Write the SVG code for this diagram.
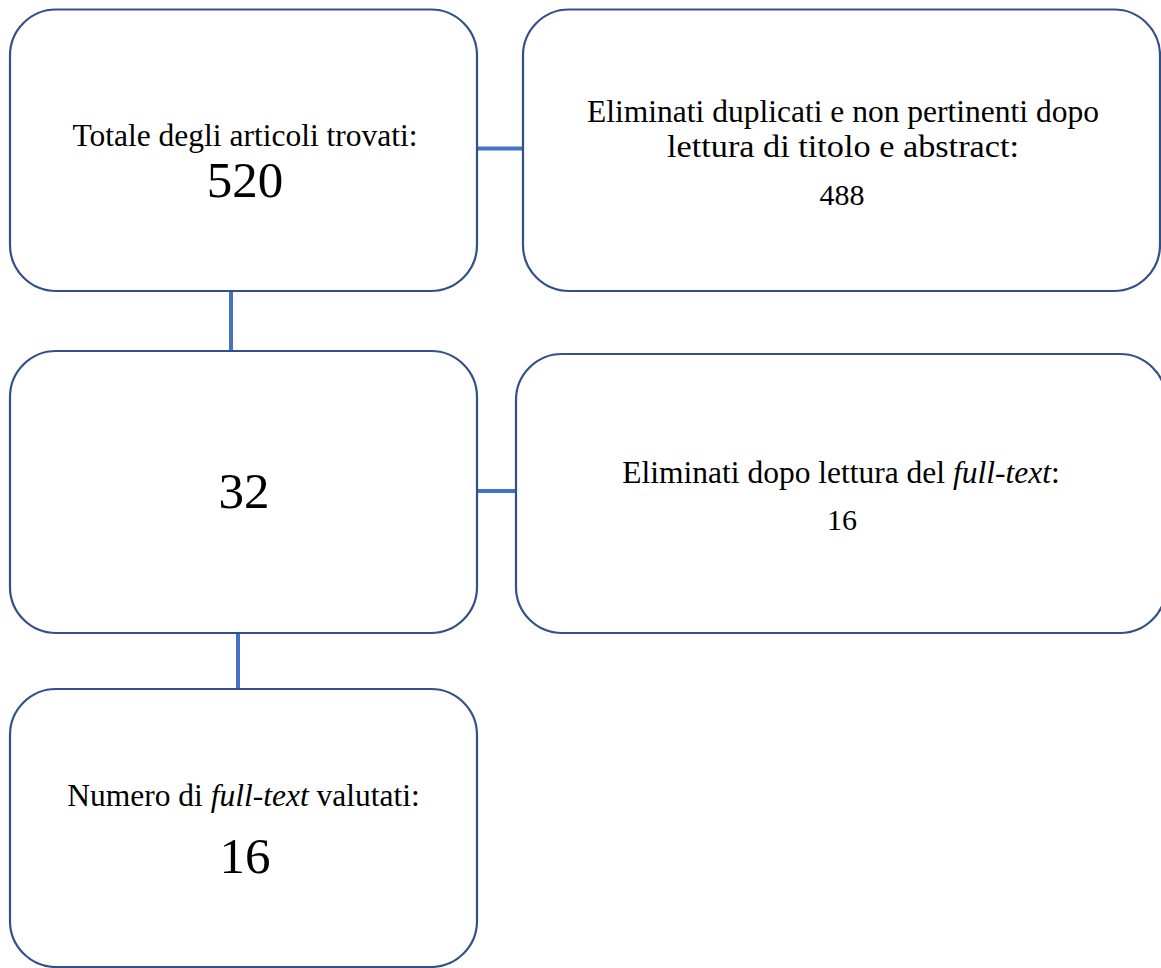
<svg xmlns="http://www.w3.org/2000/svg" width="1161" height="968" viewBox="0 0 1161 968">
<style>
.box{fill:#ffffff;stroke:#34508a;stroke-width:2.2}
.conn{stroke:#4472c4;stroke-width:4;fill:none}
.t{font-family:"Liberation Serif","Times New Roman",serif;font-size:31.5px;fill:#000;text-anchor:middle}
.big{font-size:51px}
.mid{font-size:30px}
.i{font-style:italic}
</style>
<rect width="1161" height="968" fill="#ffffff"/>
<g id="connectors">
<line class="conn" x1="477" y1="148.5" x2="523" y2="148.5"/>
<line class="conn" x1="231" y1="291" x2="231" y2="351"/>
<line class="conn" x1="477" y1="491" x2="516" y2="491"/>
<line class="conn" x1="238" y1="633" x2="238" y2="689"/>
</g>
<g id="n1">
<rect class="box" x="10" y="9.5" width="467" height="281.5" rx="46" ry="46"/>
<text class="t" x="245" y="146">Totale degli articoli trovati:</text>
<text class="t big" x="245" y="197">520</text>
</g>
<g id="n2">
<rect class="box" x="523" y="9.5" width="637" height="281.5" rx="46" ry="46"/>
<text class="t" x="843" y="122">Eliminati duplicati e non pertinenti dopo</text>
<text class="t" x="843" y="157" textLength="352" lengthAdjust="spacingAndGlyphs">lettura di titolo e abstract:</text>
<text class="t mid" x="842" y="205">488</text>
</g>
<g id="n3">
<rect class="box" x="10" y="351" width="467" height="282" rx="46" ry="46"/>
<text class="t big" x="244" y="508">32</text>
</g>
<g id="n4">
<rect class="box" x="516" y="354" width="650" height="279" rx="46" ry="46"/>
<text class="t" x="841" y="483">Eliminati dopo lettura del <tspan class="i">full-text</tspan>:</text>
<text class="t mid" x="842" y="530">16</text>
</g>
<g id="n5">
<rect class="box" x="10" y="689" width="467" height="278" rx="46" ry="46"/>
<text class="t" x="243.5" y="806">Numero di <tspan class="i">full-text</tspan> valutati:</text>
<text class="t big" x="245" y="873">16</text>
</g>
</svg>
